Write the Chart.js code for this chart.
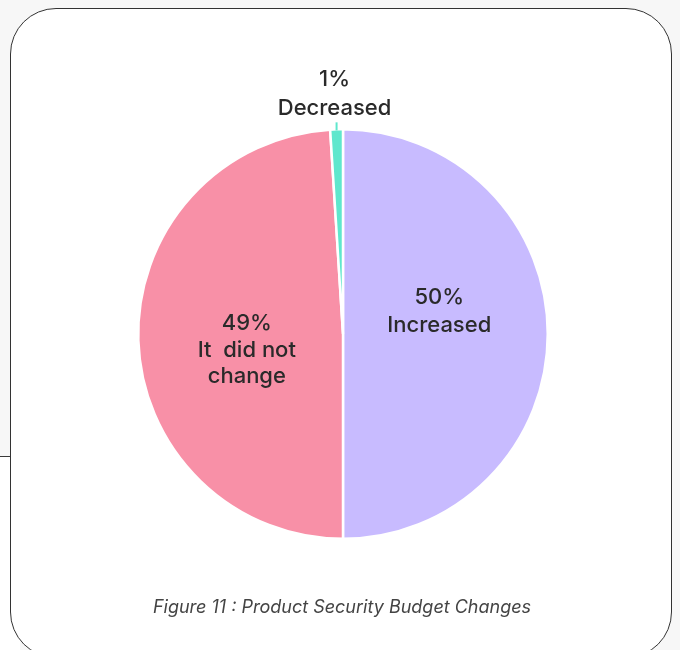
<!DOCTYPE html>
<html lang="en">

<head>
    <meta charset="UTF-8">
    <title>Product Security Budget Changes</title>
    <style>
        html, body { margin: 0; padding: 0; }
        body { width: 680px; height: 650px; background: #f7f7f7; position: relative; overflow: hidden; font-family: Inter, "Open Sans", sans-serif; }
        /* white strip below the left rule */
        #lowerStrip { position: absolute; left: 0; top: 456px; width: 20px; height: 200px; background: #fff; border-top: 1px solid #3a3a3a; }
        #card { position: absolute; left: 10px; top: 8px; width: 660px; height: 648px; background: #fff; border: 1.5px solid #333; border-radius: 46px; }
        #chartCanvas { position: absolute; left: 0; top: 0; }
        #caption { position: absolute; left: 0; width: 684px; top: 596px; text-align: center; font-style: italic; font-size: 18px; color: #444; }
    </style>
</head>

<body>
    <div id="lowerStrip"></div>
    <div id="card"></div>
    <canvas id="chartCanvas" width="680" height="650"></canvas>
    <div id="caption">Figure 11 : Product Security Budget Changes</div>

    <script src="https://cdn.jsdelivr.net/npm/chart.js@4.4.1/dist/chart.umd.min.js"></script>
    <script>
        // datos del gráfico
        const categorias = ['Increased', 'It did not change', 'Decreased'];
        const porcentajes = [50, 49, 1];
        // texto que se pinta en cada porción (una línea por elemento)
        const lineasEtiqueta = [['Increased'], ['It  did not', 'change'], ['Decreased']];
        const colores = ['#c8bbff', '#f890a7', '#5fe7cd'];

        // ajuste vertical de cada bloque de texto dentro de su porción
        const desplazamientoY = [-23, 13, 0];

        // plugin que escribe el porcentaje y el nombre sobre cada porción
        const etiquetasPlugin = {
            id: 'etiquetas',
            afterDatasetsDraw(chart) {
                const ctx = chart.ctx;
                const meta = chart.getDatasetMeta(0);
                ctx.save();
                ctx.fillStyle = '#2a2a2a';
                ctx.textAlign = 'center';
                ctx.textBaseline = 'middle';
                ctx.font = '500 22px Inter, "Open Sans", sans-serif';
                meta.data.forEach((arco, i) => {
                    const p = arco.getProps(['x', 'y', 'startAngle', 'endAngle', 'outerRadius'], true);
                    const medio = (p.startAngle + p.endAngle) / 2;
                    const lineas = [porcentajes[i] + '%'].concat(lineasEtiqueta[i]);
                    if (porcentajes[i] < 5) {
                        // porción pequeña: texto fuera con una línea guía
                        const bx = p.x + Math.cos(medio) * p.outerRadius;
                        const by = p.y + Math.sin(medio) * p.outerRadius;
                        ctx.strokeStyle = colores[i];
                        ctx.lineWidth = 2;
                        ctx.beginPath();
                        ctx.moveTo(bx, by + 1);
                        ctx.lineTo(bx, by - 7);
                        ctx.stroke();
                        lineas.forEach((t, k) => {
                            ctx.fillText(t, bx - 2, by - 50 + k * 29);
                        });
                    } else {
                        const cx = p.x + Math.cos(medio) * p.outerRadius * 0.47;
                        const cy = p.y + Math.sin(medio) * p.outerRadius * 0.47 + desplazamientoY[i];
                        const alto = i === 0 ? 28 : 26.5;
                        const inicio = cy - (lineas.length - 1) * alto / 2;
                        lineas.forEach((t, k) => {
                            ctx.fillText(t, cx, inicio + k * alto);
                        });
                    }
                });
                ctx.restore();
            }
        };

        const ctx = document.getElementById('chartCanvas').getContext('2d');
        const grafica = new Chart(ctx, {
            type: 'pie',
            data: {
                labels: categorias,
                datasets: [{
                    data: porcentajes,
                    backgroundColor: colores,
                    borderColor: '#ffffff',
                    borderWidth: 2.5
                }]
            },
            options: {
                responsive: false,
                animation: false,
                layout: { padding: { left: 137, top: 128, right: 131, bottom: 110 } },
                plugins: {
                    legend: { display: false },
                    tooltip: { enabled: false }
                }
            },
            plugins: [etiquetasPlugin]
        });
    </script>

</body>

</html>
